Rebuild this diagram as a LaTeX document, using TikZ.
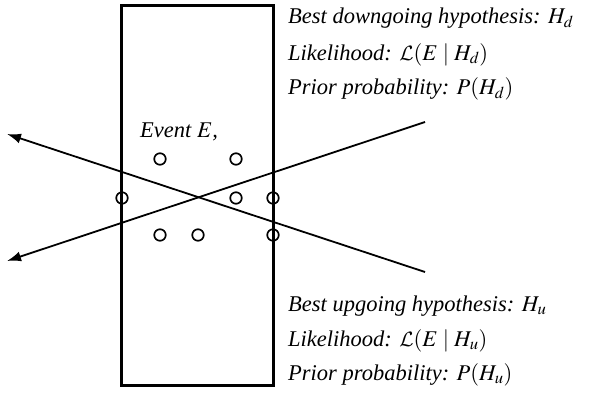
\documentclass[tikz,border=0pt]{standalone}
\usepackage{mathptmx}
\DeclareMathAlphabet{\mathcal}{OMS}{cmsy}{m}{n}
\usepackage{fontspec}
\setmainfont{Liberation Serif}
\usetikzlibrary{arrows.meta}
\begin{document}
\begin{tikzpicture}[x=1pt,y=-1pt,
  lbl/.style={anchor=base west,inner sep=0pt,font=\fontsize{22.5}{27}\selectfont\itshape},
  hit/.style={circle,draw,line width=1.7pt,minimum size=11.5pt,inner sep=0pt},
  track/.style={line width=1.8pt,-{Latex[length=14pt,width=10pt]}}]
\useasboundingbox (0,0) rectangle (597,396);
\node[draw,line width=3pt,minimum width=152pt,minimum height=380pt,inner sep=0pt] (det) at (197,195.5) {};
\coordinate (d0) at (425,272);
\coordinate (d1) at (7,134);
\coordinate (u0) at (425,122);
\coordinate (u1) at (7,261);
\draw[track] (d0) -- (d1);
\draw[track] (u0) -- (u1);
\node[hit] (h1) at (160,159) {};
\node[hit] (h2) at (236,159) {};
\node[hit] (h3) at (122,198) {};
\node[hit] (h4) at (236,198) {};
\node[hit] (h5) at (273,198) {};
\node[hit] (h6) at (160,235) {};
\node[hit] (h7) at (198,235) {};
\node[hit] (h8) at (273,235) {};
\node[lbl] (ev) at (140,137) {Event $E$,};
\node[lbl] (t1) at (288,24) {Best downgoing hypothesis: $H_d$};
\node[lbl] (t2) at (288,60) {Likelihood: $\mathcal{L}(E\mid H_d)$};
\node[lbl] (t3) at (288,95) {Prior probability: $P(H_d)$};
\node[lbl] (b1) at (288,311) {Best upgoing hypothesis: $H_u$};
\node[lbl] (b2) at (288,346) {Likelihood: $\mathcal{L}(E\mid H_u)$};
\node[lbl] (b3) at (288,380) {Prior probability: $P(H_u)$};
\end{tikzpicture}
\end{document}
